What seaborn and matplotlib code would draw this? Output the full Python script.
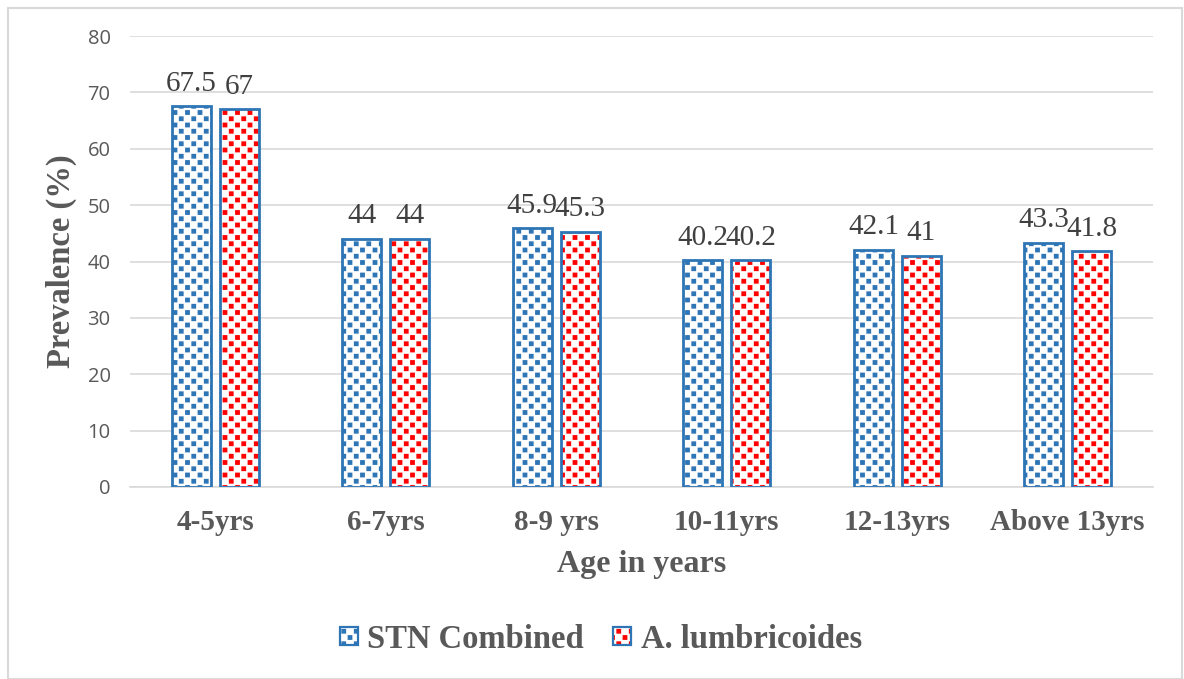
import numpy as np
import pandas as pd
import matplotlib
matplotlib.use("Agg")
import matplotlib.pyplot as plt
import matplotlib.hatch as mhatch
from matplotlib.path import Path
from matplotlib.patches import Rectangle, Patch
from matplotlib.legend_handler import HandlerBase
import seaborn as sns

# ---- data ----
categories = ['4-5yrs', '6-7yrs', '8-9 yrs', '10-11yrs', '12-13yrs', 'Above 13yrs']
stn_combined = [67.5, 44, 45.9, 40.2, 42.1, 43.3]
a_lumbricoides = [67, 44, 45.3, 40.2, 41, 41.8]
series_names = ['STN Combined', 'A. lumbricoides']
y_ticks = [0, 10, 20, 30, 40, 50, 60, 70, 80]


# ---- staggered square-dot hatch (replaces '.' small filled circles) ----
class SquareDots(mhatch.HatchPatternBase):
    half = 0.017

    def __init__(self, hatch, density):
        k = hatch.count('.')
        self.ncols = 4 * k
        self.nrows = 8 * k
        if k == 0:
            self.num_vertices = 0
            return
        n = 0
        for r in range(self.nrows + 1):
            n += (self.ncols + 1) if r % 2 == 0 else self.ncols
        self.num_shapes = n
        self.num_vertices = n * 5

    def set_vertices_and_codes(self, vertices, codes):
        h = self.half
        sq = np.array([[-h, -h], [h, -h], [h, h], [-h, h], [-h, -h]])
        sc = np.array([Path.MOVETO, Path.LINETO, Path.LINETO, Path.LINETO,
                       Path.CLOSEPOLY], dtype=Path.code_type)
        vparts, cparts = [], []
        for r in range(self.nrows + 1):
            y = r / self.nrows
            if r % 2 == 0:
                xs = np.arange(self.ncols + 1) / self.ncols
            else:
                xs = (np.arange(self.ncols) + 0.5) / self.ncols
            for x in xs:
                vparts.append(sq + [x, y])
                cparts.append(sc)
        np.concatenate(vparts, out=vertices)
        np.concatenate(cparts, out=codes)


mhatch._hatch_types[mhatch._hatch_types.index(mhatch.SmallFilledCircles)] = SquareDots

sns.set_theme(style="white")
plt.rcParams['font.family'] = ['Liberation Serif', 'DejaVu Serif']
plt.rcParams['hatch.linewidth'] = 1.0

BLUE_EDGE = '#2E75B6'
DOT_COLORS = ['#2E75B6', '#FF0000']
GREY_TXT = '#595959'
GRID = '#D9D9D9'

df = pd.DataFrame({
    'Age': categories * 2,
    'Series': [series_names[0]] * len(categories) + [series_names[1]] * len(categories),
    'Value': stn_combined + a_lumbricoides,
})

fig = plt.figure(figsize=(11.84, 6.79), dpi=100)
ax = fig.add_axes([130 / 1184, 1 - 487 / 679, 1023 / 1184, 451 / 679])

sns.barplot(data=df, x='Age', y='Value', hue='Series', order=categories,
            hue_order=series_names, palette=['white', 'white'], width=0.56, gap=0.18,
            legend=False, ax=ax, err_kws={'linewidth': 0})

for cont, dc in zip(ax.containers, DOT_COLORS):
    for bar in cont:
        bar.set_facecolor('white')
        bar.set_edgecolor(dc)
        bar.set_hatch('..')
        bar.set_linewidth(0)
        ax.add_patch(Rectangle(bar.get_xy(), bar.get_width(), bar.get_height(),
                               fill=False, edgecolor=BLUE_EDGE, linewidth=2.0, zorder=3))
    ax.bar_label(cont, fmt='{:g}', padding=7, fontsize=21, color='#404040',
                 family='Liberation Serif')

ax.set_ylim(0, 80)
ax.set_xlim(-0.5, len(categories) - 0.5)
ax.set_yticks(y_ticks)
ax.yaxis.grid(True, color=GRID, linewidth=1.2)
ax.set_axisbelow(True)
for s in ['left', 'right', 'top']:
    ax.spines[s].set_visible(False)
ax.spines['bottom'].set_color(GRID)
ax.spines['bottom'].set_linewidth(1.2)

ax.tick_params(axis='y', length=0, pad=14, labelsize=14.5, labelcolor=GREY_TXT)
for lab in ax.get_yticklabels():
    lab.set_family('Open Sans')
ax.tick_params(axis='x', which='major', length=0, pad=16, labelsize=21, labelcolor=GREY_TXT)
for lab in ax.get_xticklabels():
    lab.set_fontweight('bold')
ax.set_xticks(np.arange(-0.5, len(categories), 1.0), minor=True)
ax.tick_params(axis='x', which='minor', length=8, width=1.2, color=GRID)

ax.set_xlabel('Age in years', fontsize=23, fontweight='bold', color=GREY_TXT)
ax.xaxis.set_label_coords(0.5, (487 - 550) / 451)
ax.set_ylabel('Prevalence (%)', fontsize=23.5, fontweight='bold', color=GREY_TXT)
ax.yaxis.set_label_coords((77 - 130) / 1023, 0.5)


class HandlerSquare(HandlerBase):
    def create_artists(self, legend, orig_handle, xdescent, ydescent, width, height,
                       fontsize, trans):
        s = 13.0
        x0 = width / 2 - s / 2 - xdescent
        y0 = height / 2 - s / 2 - ydescent + 1
        p1 = Rectangle((x0, y0), s, s, facecolor='white', edgecolor=orig_handle.get_edgecolor(),
                       hatch='..', linewidth=0, transform=trans)
        p2 = Rectangle((x0, y0), s, s, fill=False, edgecolor=BLUE_EDGE, linewidth=1.6,
                       transform=trans)
        return [p1, p2]


handles = [Patch(facecolor='white', edgecolor=dc) for dc in DOT_COLORS]
fig.legend(handles, series_names, handler_map={Patch: HandlerSquare()},
           loc='center', bbox_to_anchor=(601 / 1184, 1 - 640 / 679), ncol=2, frameon=False,
           prop={'family': 'Liberation Serif', 'weight': 'bold', 'size': 23.5},
           labelcolor=GREY_TXT, handlelength=0.55, handleheight=0.55, handletextpad=0.3,
           columnspacing=0.9)

fig.patches.append(Rectangle((8 / 1184, 0), 1174 / 1184, 1 - 8 / 679,
                             transform=fig.transFigure, fill=False, edgecolor=GRID,
                             linewidth=1.5))

fig.savefig('out.png', dpi=100)
